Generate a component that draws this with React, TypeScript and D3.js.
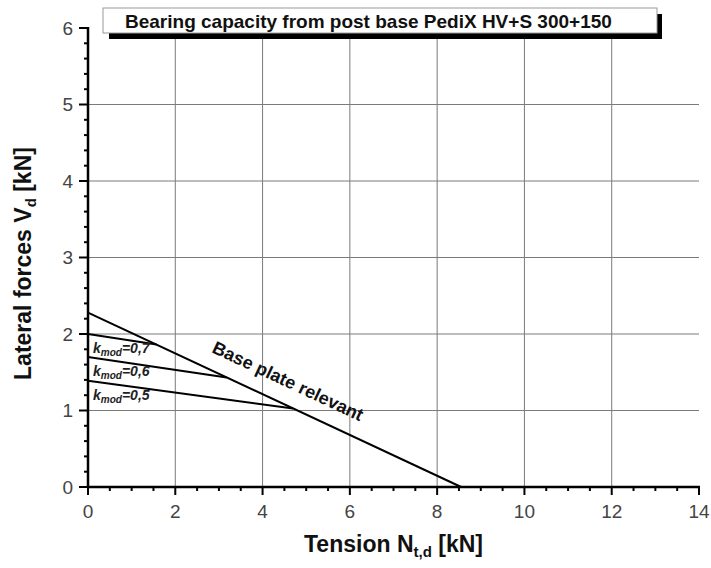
import React from "react";
import * as d3 from "d3";

const xTicks = [0, 2, 4, 6, 8, 10, 12, 14];
const yTicks = [0, 1, 2, 3, 4, 5, 6];
const xGrid = [2, 4, 6, 8, 10, 12];
const yGrid = [1, 2, 3, 4, 5];

// Base plate relevant line (tension, lateral force)
const baseLineN = [0, 8.55];
const baseLineV = [2.28, 0];

// kmod lines
const kmodNames = ["0,7", "0,6", "0,5"];
const kmodStartV = [2.0, 1.7, 1.39];
const kmodEndN = [1.57, 3.18, 4.7];

const title = "Bearing capacity from post base PediX HV+S 300+150";

const W = 711;
const H = 568;
const FONT = "'Liberation Sans', Arial, sans-serif";

export default function App() {
  const x = d3.scaleLinear().domain([0, 14]).range([88, 699]);
  const y = d3.scaleLinear().domain([0, 6]).range([487, 28]);
  const baseV = (n: number) => baseLineV[0] + (baseLineV[1] - baseLineV[0]) * (n - baseLineN[0]) / (baseLineN[1] - baseLineN[0]);
  const line = d3.line<[number, number]>().x((d) => x(d[0])).y((d) => y(d[1]));

  const xMinor = d3.range(0, 14.001, 0.5).filter((v) => Math.abs(v % 2) > 1e-6);
  const yMinor = d3.range(0, 6.001, 0.2).filter((v) => Math.abs(v - Math.round(v)) > 1e-6);

  const basePts: [number, number][] = baseLineN.map((n, i) => [n, baseLineV[i]]);

  return (
    <svg width={W} height={H} style={{ position: "absolute", left: 0, top: 0, background: "#fff" }} fontFamily={FONT}>
      <rect x={0} y={0} width={W} height={H} fill="#fff" />
      {/* grid */}
      {xGrid.map((v) => (
        <line key={"gx" + v} x1={x(v)} x2={x(v)} y1={y(6)} y2={y(0)} stroke="#7a7a7a" strokeWidth={1} />
      ))}
      {yGrid.map((v) => (
        <line key={"gy" + v} x1={x(0)} x2={x(14)} y1={y(v)} y2={y(v)} stroke="#7a7a7a" strokeWidth={1} />
      ))}
      {/* data lines */}
      <path d={line(basePts) || ""} fill="none" stroke="#000" strokeWidth={2} />
      {kmodNames.map((k, i) => {
        const pts: [number, number][] = [
          [0, kmodStartV[i]],
          [kmodEndN[i], baseV(kmodEndN[i])],
        ];
        return <path key={"k" + k} d={line(pts) || ""} fill="none" stroke="#000" strokeWidth={2} />;
      })}
      {kmodNames.map((k, i) => (
        <text key={"kl" + k} x={x(0) + 5} y={y(kmodStartV[i]) + 19} fontSize={14} fontWeight="bold" fontStyle="italic" fill="#222">
          k
          <tspan fontSize={10} dy={3}>mod</tspan>
          <tspan dy={-3}>={k}</tspan>
        </text>
      ))}
      <text transform={`translate(211,352) rotate(25)`} fontSize={18} fontWeight="bold" fill="#111">
        Base plate relevant
      </text>
      {/* axes */}
      <line x1={x(0)} x2={x(0)} y1={y(6) - 1} y2={y(0) + 1} stroke="#000" strokeWidth={2.5} />
      <line x1={x(0) - 1} x2={x(14) + 1} y1={y(0)} y2={y(0)} stroke="#000" strokeWidth={2.5} />
      {yTicks.map((v) => (
        <line key={"ty" + v} x1={x(0) - 9} x2={x(0)} y1={y(v)} y2={y(v)} stroke="#000" strokeWidth={2} />
      ))}
      {yMinor.map((v) => (
        <line key={"tym" + v} x1={x(0) - 4} x2={x(0)} y1={y(v)} y2={y(v)} stroke="#000" strokeWidth={2} />
      ))}
      {xTicks.map((v) => (
        <line key={"tx" + v} x1={x(v)} x2={x(v)} y1={y(0)} y2={y(0) + 8} stroke="#000" strokeWidth={2} />
      ))}
      {xMinor.map((v) => (
        <line key={"txm" + v} x1={x(v)} x2={x(v)} y1={y(0)} y2={y(0) + 4} stroke="#000" strokeWidth={2} />
      ))}
      {yTicks.map((v) => (
        <text key={"ly" + v} x={73} y={y(v) + 6.5} fontSize={19} textAnchor="end" fill="#444">
          {v}
        </text>
      ))}
      {xTicks.map((v) => (
        <text key={"lx" + v} x={x(v)} y={518} fontSize={19} textAnchor="middle" fill="#444">
          {v}
        </text>
      ))}
      {/* axis titles */}
      <text x={(x(0) + x(14)) / 2} y={552} fontSize={23} fontWeight="bold" textAnchor="middle" fill="#111">
        Tension N<tspan fontSize={15} dy={5}>t,d</tspan>
        <tspan dy={-5}> [kN]</tspan>
      </text>
      <text
        transform={`translate(31,${(y(0) + y(6)) / 2 + 6}) rotate(-90)`}
        fontSize={23}
        fontWeight="bold"
        textAnchor="middle"
        fill="#111"
      >
        Lateral forces V<tspan fontSize={15} dy={5}>d</tspan>
        <tspan dy={-5}> [kN]</tspan>
      </text>
      {/* title box */}
      <rect x={109} y={14} width={553} height={25} fill="#000" />
      <rect x={103} y={8} width={554} height={25} fill="#fff" stroke="#999" strokeWidth={1} />
      <text x={125} y={28} fontSize={19} fontWeight="bold" fill="#111">
        {title}
      </text>
    </svg>
  );
}
